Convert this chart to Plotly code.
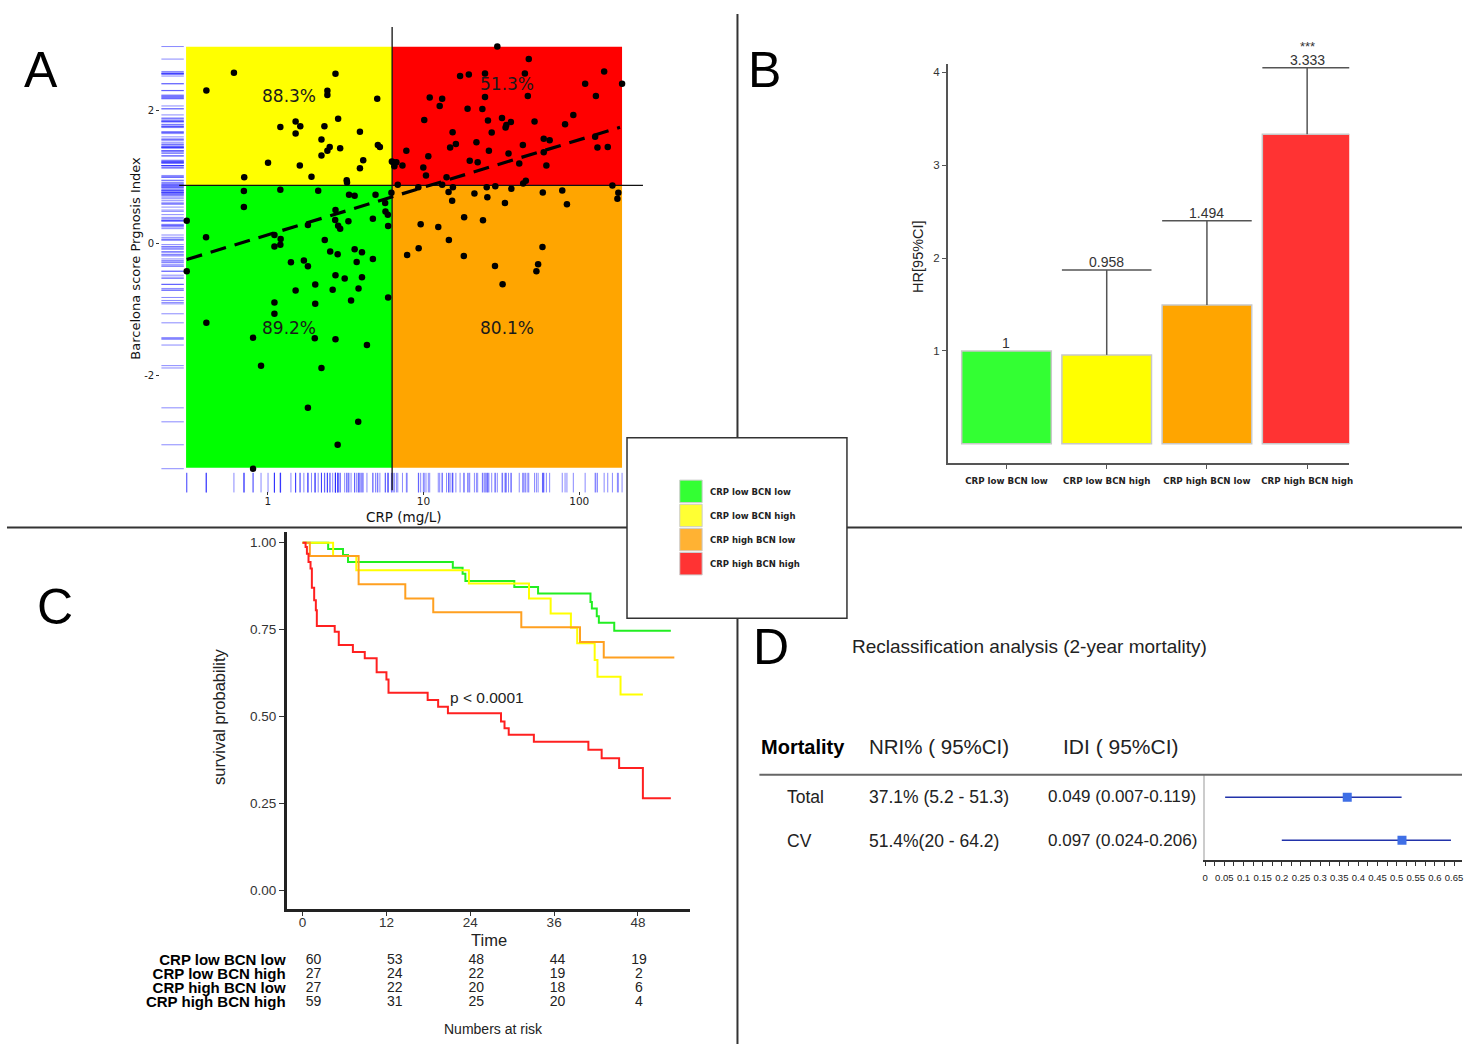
import numpy as np
import plotly.graph_objects as go

# page size, used to place layout items in paper coordinates
W, H = 1466, 1045


def fx(x):
    return x / W


def fy(y):
    return 1 - y / H


# ---------------------------------------------------------------
# Panel A : CRP (log10 mg/L) vs Barcelona prognosis index
# ---------------------------------------------------------------
crp_log10 = [-0.217, -0.394, 0.435, 0.383, 0.383, 0.703, 0.452, 0.179, 0.209, 0.179,
             0.081, 0.364, 0.592, 0.345, 0.398, 0.383, 0.345, 0.465, 0.707, 0.720,
             0.613, 0.592, 0.002, 0.206, -0.151, 0.281, 0.507, 0.509, 0.797,
             0.805, 0.826, 0.813, 0.865, 0.890, 1.031, 0.999, 1.016, 0.835, 0.967,
             1.148, 1.171, 1.208, 1.187, 1.297, 1.348, 1.340, 1.420, 1.438, 1.527,
             1.532, 1.546, 1.615, 1.638, 1.772, 1.810, 1.772, 1.789, 1.909, 2.102,
             2.117, 2.183, 1.657, 1.640, 1.461, 1.406, 1.564, 1.120, 1.189, 2.213,
             1.474, 1.676, 1.235, 1.291, 1.395, 1.651, 1.670, 1.395, 1.040, 1.120,
             1.104, 1.283, 1.378, 1.005, 1.414, 1.504, 1.561, 1.713, 1.962, 2.038,
             2.160, 2.107, 2.275,
             0.794, 1.161, 1.184, 1.327, 1.410, 1.523, 1.766, 1.891, 1.921, 2.251,
             2.245, 1.261, 1.382, 0.982, 1.095, 1.163, 0.969, 0.895, 1.259, 1.459,
             1.508, 1.764, 1.736, 1.725,
             -0.153, -0.153, 0.081, 0.324, 0.522, 0.558, 0.692, 0.754, 0.756, 0.771,
             0.773, 0.675, 0.518, 0.435, 0.433, 0.452, 0.465, 0.258, 0.043, 0.083,
             0.081, 0.043, -0.396, -0.520, -0.520, 0.366, 0.401, 0.449, 0.558, 0.605,
             0.675, 0.571, 0.149, 0.232, 0.258, 0.435, 0.494, 0.605, 0.305, 0.179,
             0.417, 0.583, 0.535, 0.305, 0.043, 0.043, 0.773, -0.394, -0.094, 0.302,
             0.435, 0.637, -0.043, 0.345, 0.258, 0.581, 0.449, -0.094]
bcn_index = [2.572, 2.305, 2.556, 2.301, 2.236, 2.181, 1.880, 1.835, 1.764, 1.654,
             1.755, 1.764, 1.684, 1.564, 1.454, 1.394, 1.323, 1.433, 1.484, 1.454,
             1.253, 1.132, 1.214, 1.173, 0.997, 1.003, 0.952, 0.917, 1.233,
             1.223, 1.223, 1.163, 1.173, 1.394, 1.313, 1.143, 1.023, 0.883, 0.847,
             0.997, 1.444, 1.499, 1.674, 1.244, 1.223, 1.524, 1.394, 1.669, 1.745,
             1.785, 1.354, 1.203, 1.484, 1.575, 1.554, 1.373, 1.173, 1.794, 1.605,
             1.444, 1.454, 0.943, 0.902, 0.862, 0.847, 0.823, 0.883, 0.847, 0.872,
             2.967, 2.778, 2.522, 2.546, 2.561, 2.561, 2.221, 2.206, 2.200, 2.181,
             2.071, 2.030, 2.026, 1.860, 1.850, 1.890, 1.830, 1.835, 1.936, 2.406,
             2.591, 2.221, 2.406,
             0.762, 0.772, 0.642, 0.752, 0.696, 0.606, 0.767, 0.797, 0.587, 0.762,
             0.672, 0.391, 0.346, 0.286, 0.245, 0.050, -0.075, -0.176, -0.191, -0.341,
             -0.617, -0.056, -0.316, -0.421,
             0.787, 0.546, 0.808, 0.793, 0.732, 0.717, 0.732, 0.606, 0.481, 0.432,
             0.260, 0.371, 0.331, 0.501, 0.350, 0.266, 0.221, 0.275, 0.125, 0.065,
             -0.020, -0.050, 0.090, 0.341, -0.421, 0.050, -0.125, -0.165, -0.090, -0.135,
             -0.236, -0.281, -0.286, -0.260, -0.346, -0.481, -0.531, -0.511, -0.621, -0.711,
             -0.702, -0.681, -0.862, -0.913, -0.892, -1.063, -0.817, -1.199, -1.424, -1.433,
             -1.448, -1.534, -1.845, -1.880, -2.481, -2.692, -3.038, -3.399]

crp_edges = [0.299, 6.29, 188.3]      # min, cut-off, max (mg/L)
bcn_edges = [-3.383, 0.872, 2.962]    # min, cut-off, max
trend_crp = [0.302, 182.8]
trend_bcn = [-0.245, 1.749]
quad_pct = ["88.3%", "51.3%", "89.2%", "80.1%"]

# ---------------------------------------------------------------
# Panel B : hazard ratios
# ---------------------------------------------------------------
groups = ["CRP low BCN low", "CRP low BCN high", "CRP high BCN low", "CRP high BCN high"]
hr = [1.0, 0.958, 1.494, 3.333]
hr_upper = [1.0, 1.873, 2.404, 4.05]
hr_text = ["1", "0.958", "1.494", "3.333"]
bar_colors = ["#33ff33", "#ffff00", "#ffa500", "#ff3333"]

# ---------------------------------------------------------------
# Panel C : Kaplan-Meier curves (months)
# ---------------------------------------------------------------
km_t = {
    "CRP low BCN low": [0, 3.66, 5.79, 6.5, 21.5, 22.9, 23.3, 30.3, 33.7, 41.2, 41.4,
                        42.1, 42.4, 44.6, 52.7],
    "CRP low BCN high": [0, 4.37, 7.69, 23.8, 32.4, 35.5, 38.4, 39.3, 41.8, 42.2, 45.5, 48.7],
    "CRP high BCN low": [0, 1.04, 8.02, 14.7, 18.7, 31.3, 39.7, 43.1, 53.2],
    "CRP high BCN high": [0, 0.43, 0.62, 0.85, 1.14, 1.33, 1.66, 1.90, 2.04, 4.6, 5.18,
                          7.2, 8.9, 10.6, 12.0, 12.3, 17.9, 19.4, 20.8, 28.4, 28.9, 29.5,
                          33.1, 40.9, 42.8, 45.3, 48.7, 52.7],
}
km_s = {
    "CRP low BCN low": [1, 0.982, 0.965, 0.945, 0.928, 0.911, 0.890, 0.873, 0.854, 0.830,
                        0.811, 0.789, 0.770, 0.747, 0.747],
    "CRP low BCN high": [1, 0.962, 0.921, 0.883, 0.840, 0.797, 0.756, 0.711, 0.663, 0.615,
                         0.564, 0.564],
    "CRP high BCN low": [1, 0.962, 0.881, 0.840, 0.800, 0.757, 0.715, 0.670, 0.670],
    "CRP high BCN high": [1, 0.988, 0.968, 0.945, 0.926, 0.871, 0.835, 0.806, 0.761, 0.744,
                          0.706, 0.686, 0.668, 0.628, 0.607, 0.569, 0.548, 0.529, 0.510,
                          0.486, 0.467, 0.448, 0.428, 0.405, 0.381, 0.353, 0.266, 0.266],
}
km_colors = ["#22ee22", "#ffff00", "#ffa020", "#ff2020"]
risk_times = [0, 12, 24, 36, 48]
at_risk = [[60, 53, 48, 44, 19],
           [27, 24, 22, 19, 2],
           [27, 22, 20, 18, 6],
           [59, 31, 25, 20, 4]]

# ---------------------------------------------------------------
# Panel D : reclassification
# ---------------------------------------------------------------
rows = ["Total", "CV"]
nri_txt = ["37.1% (5.2 - 51.3)", "51.4%(20 - 64.2)"]
idi_txt = ["0.049 (0.007-0.119)", "0.097 (0.024-0.206)"]
nri = [0.371, 0.514]
nri_lo = [0.052, 0.20]
nri_hi = [0.513, 0.642]
forest_ticks = [0, 0.05, 0.1, 0.15, 0.2, 0.25, 0.3, 0.35, 0.4, 0.45, 0.5, 0.55, 0.6, 0.65]

fig = go.Figure()

# ---- Panel A traces
quadrants = [
    (crp_edges[0], crp_edges[1], bcn_edges[1], bcn_edges[2], "#ffff00"),
    (crp_edges[1], crp_edges[2], bcn_edges[1], bcn_edges[2], "#ff0000"),
    (crp_edges[0], crp_edges[1], bcn_edges[0], bcn_edges[1], "#00ff00"),
    (crp_edges[1], crp_edges[2], bcn_edges[0], bcn_edges[1], "#ffa500"),
]
for x0, x1, y0, y1, col in quadrants:
    fig.add_trace(go.Scatter(x=[x0, x1, x1, x0, x0], y=[y0, y0, y1, y1, y0],
                             fill="toself", fillcolor=col, mode="lines",
                             line=dict(width=0), hoverinfo="skip",
                             xaxis="x", yaxis="y"))

crp = [10 ** v for v in crp_log10]
# rugs
fig.add_trace(go.Scatter(x=crp, y=[-3.609] * len(crp), mode="markers",
                         marker=dict(symbol="line-ns", size=14,
                                     line=dict(color="rgba(40,40,255,0.55)", width=1)),
                         cliponaxis=False, xaxis="x", yaxis="y"))
fig.add_trace(go.Scatter(x=[0.245] * len(bcn_index), y=bcn_index, mode="markers",
                         marker=dict(symbol="line-ew", size=16,
                                     line=dict(color="rgba(40,40,255,0.55)", width=1)),
                         cliponaxis=False, xaxis="x", yaxis="y"))
# cut-off lines
fig.add_trace(go.Scatter(x=[0.27, 256.5], y=[bcn_edges[1]] * 2, mode="lines",
                         line=dict(color="#111111", width=1.3), xaxis="x", yaxis="y"))
fig.add_trace(go.Scatter(x=[crp_edges[1]] * 2, y=[-3.729, 3.263], mode="lines",
                         line=dict(color="#111111", width=1.3), cliponaxis=False,
                         xaxis="x", yaxis="y"))
fig.add_trace(go.Scatter(x=crp, y=bcn_index, mode="markers",
                         marker=dict(color="black", size=6.5),
                         xaxis="x", yaxis="y"))
fig.add_trace(go.Scatter(x=trend_crp, y=trend_bcn, mode="lines",
                         line=dict(color="black", width=3.2, dash="16px,9px"),
                         xaxis="x", yaxis="y"))

# ---- Panel B traces
fig.add_trace(go.Bar(x=[0, 1, 2, 3], y=hr, width=0.894,
                     marker=dict(color=bar_colors, line=dict(color="#c8c8c8", width=1.5)),
                     xaxis="x2", yaxis="y2"))
ex, ey = [], []
for i, (v, u) in enumerate(zip(hr, hr_upper)):
    if u > v:
        ex += [i, i, None, i - 0.447, i + 0.447, None]
        ey += [v, u, None, u, u, None]
fig.add_trace(go.Scatter(x=ex, y=ey, mode="lines", line=dict(color="#555555", width=1.5),
                         xaxis="x2", yaxis="y2"))

# ---- Panel C traces
for g, col in zip(groups, km_colors):
    fig.add_trace(go.Scatter(x=km_t[g], y=km_s[g], mode="lines",
                             line=dict(color=col, width=2, shape="hv"),
                             xaxis="x3", yaxis="y3"))
# numbers at risk table
for r, counts in enumerate(at_risk):
    fig.add_trace(go.Scatter(x=risk_times, y=[r] * len(risk_times), mode="text",
                             text=[str(c) for c in counts],
                             textfont=dict(size=14, color="#222222", family="Liberation Sans"),
                             xaxis="x5", yaxis="y5"))

# ---- Panel D forest
fig.add_trace(go.Scatter(x=nri, y=[2, 1], mode="markers",
                         marker=dict(symbol="square", size=9, color="#3f6fe6"),
                         error_x=dict(type="data", symmetric=False,
                                      array=[h - v for h, v in zip(nri_hi, nri)],
                                      arrayminus=[v - l for v, l in zip(nri, nri_lo)],
                                      color="#2233aa", thickness=1.5, width=0),
                         xaxis="x4", yaxis="y4"))

# ---------------------------------------------------------------
# Annotations
# ---------------------------------------------------------------
ann = []


def txt(x, y, s, size, **kw):
    d = dict(x=fx(x), y=fy(y), xref="paper", yref="paper", text=s, showarrow=False,
             xanchor="center", yanchor="middle",
             font=dict(size=size, color=kw.pop("color", "#111111"),
                       family=kw.pop("family", "Liberation Sans")))
    d.update(kw)
    ann.append(d)


# panel letters
for lab, x, y in [("A", 38, 68), ("B", 765, 68), ("C", 52, 607), ("D", 772, 647)]:
    txt(x, y, lab, 50, family="Liberation Sans", color="black")

# A texts
quad_pos = [(0.137, 2.226), (1.537, 2.406), (0.137, -1.278), (1.537, -1.278)]
for s, (lx, ly) in zip(quad_pct, quad_pos):
    ann.append(dict(x=lx, y=ly, xref="x", yref="y", text=s, showarrow=False,
                    font=dict(size=17, color="#1a1a1a", family="DejaVu Sans")))
txt(403, 516, "CRP (mg/L)", 13.5, family="DejaVu Sans")
txt(133, 257, "Barcelona score Prgnosis Index", 13, family="DejaVu Sans", textangle=-90)

# B texts
for i, (u, s) in enumerate(zip(hr_upper, hr_text)):
    ann.append(dict(x=i, y=u, xref="x2", yref="y2", text=s, showarrow=False, yshift=8,
                    font=dict(size=14, color="#333333", family="Liberation Sans")))
ann.append(dict(x=3, y=hr_upper[3], xref="x2", yref="y2", text="***", showarrow=False,
                yshift=21, font=dict(size=13, color="#333333", family="Liberation Sans")))
txt(920, 255, "HR[95%CI]", 14.5, textangle=-90, color="#222222")

# C texts
txt(486, 698, "p < 0.0001", 15.5, color="#222222")
txt(488, 941, "Time", 16.5, color="#222222")
txt(217, 717, "survival probability", 16.5, textangle=-90, color="#222222")
txt(493, 1030, "Numbers at risk", 14, color="#222222")

# legend box texts
for k, g in enumerate(groups):
    txt(708, 491 + 24.2 * k, "<b>" + g + "</b>", 8.5, family="DejaVu Sans",
        xanchor="left", color="#222222")

# D texts
txt(851, 646, "Reclassification analysis (2-year mortality)", 19, xanchor="left",
    color="#222222")
txt(760, 747, "<b>Mortality</b>", 20, xanchor="left", color="black")
txt(868, 747, "NRI% ( 95%CI)", 20.5, xanchor="left", color="#222222")
txt(1063, 747, "IDI ( 95%CI)", 21, xanchor="left", color="#222222")
for k, (r, a, b) in enumerate(zip(rows, nri_txt, idi_txt)):
    yy = 797 + 44 * k
    txt(786, yy, r, 17.5, xanchor="left", color="#222222")
    txt(868, yy, a, 17.5, xanchor="left", color="#222222")
    txt(1048, yy, b, 17, xanchor="left", color="#222222")

# ---------------------------------------------------------------
# Shapes: panel dividers, legend box
# ---------------------------------------------------------------
shapes = [
    dict(type="line", xref="paper", yref="paper", x0=fx(738), x1=fx(738), y0=fy(12), y1=0,
         line=dict(color="#333333", width=2), layer="above"),
    dict(type="line", xref="paper", yref="paper", x0=fx(4), x1=1, y0=fy(527), y1=fy(527),
         line=dict(color="#333333", width=2), layer="above"),
    dict(type="line", xref="paper", yref="paper", x0=fx(760), x1=1, y0=fy(775), y1=fy(775),
         line=dict(color="#666666", width=2), layer="above"),
    dict(type="rect", xref="paper", yref="paper", x0=fx(627), x1=fx(848), y0=fy(437),
         y1=fy(618), fillcolor="white", line=dict(color="#333333", width=1.5), layer="above"),
]
for k, col in enumerate(["#33ff33", "#ffff33", "#ffb233", "#ff3333"]):
    top = 479.5 + 24.2 * k
    shapes.append(dict(type="rect", xref="paper", yref="paper", x0=fx(680), x1=fx(702.5),
                       y0=fy(top), y1=fy(top + 22.5), fillcolor=col,
                       line=dict(color="#cccccc", width=1), layer="above"))

axis_common = dict(showgrid=False, zeroline=False)

fig.update_layout(
    width=W, height=H, margin=dict(l=0, r=0, t=0, b=0),
    paper_bgcolor="white", plot_bgcolor="rgba(0,0,0,0)", showlegend=False,
    font=dict(family="Liberation Sans", color="#222222"),
    annotations=ann, shapes=shapes,
    # A
    xaxis=dict(axis_common, domain=[fx(158), fx(650)], type="log",
               range=[(158 - 266) / 156.5, (650 - 266) / 156.5],
               tickvals=[1, 10, 100], ticktext=["1", "10", "100"], ticks="outside",
               ticklen=3, tickcolor="#333", ticklabelstandoff=-2,
               tickfont=dict(size=10.5, family="DejaVu Sans"), anchor="y"),
    yaxis=dict(axis_common, domain=[fy(490), fy(20)], range=[-3.729, 3.338],
               tickvals=[-2, 0, 2], ticktext=["-2", "0", "2"], ticks="outside",
               ticklen=3, tickcolor="#333",
               tickfont=dict(size=10, family="DejaVu Sans"), anchor="x"),
    # B
    xaxis2=dict(axis_common, domain=[fx(949.3), fx(1352.7)], range=[-0.586, 3.42],
                tickvals=[0, 1, 2, 3], ticktext=["<b>" + g + "</b>" for g in groups],
                ticks="outside", ticklen=4, tickcolor="#555", showline=True,
                linecolor="#555", linewidth=1.5, tickangle=0, ticklabelstandoff=5,
                tickfont=dict(size=8.7, family="DejaVu Sans", color="#222"), anchor="y2"),
    yaxis2=dict(axis_common, domain=[fy(462.3), fy(61.7)], range=[-0.206, 4.096],
                tickvals=[1, 2, 3, 4], ticks="outside", ticklen=4, tickcolor="#555",
                showline=True, linecolor="#555", linewidth=1.5,
                tickfont=dict(size=11.5, color="#333"), anchor="x2"),
    # C
    xaxis3=dict(axis_common, domain=[fx(285), fx(690)], range=[-2.28, 55.4],
                tickvals=risk_times, ticks="outside", ticklen=4, tickcolor="#333",
                ticklabelstandoff=-5, showline=True, linecolor="#222", linewidth=2.5,
                tickfont=dict(size=13.5, color="#333"), anchor="y3"),
    yaxis3=dict(axis_common, domain=[fy(910), fy(532)], range=[-0.0536, 1.0295],
                tickvals=[0, 0.25, 0.5, 0.75, 1.0],
                ticktext=["0.00", "0.25", "0.50", "0.75", "1.00"], ticks="outside",
                ticklen=5, tickcolor="#333", showline=True, linecolor="#222",
                linewidth=2.5, tickfont=dict(size=13.5, color="#333"), anchor="x3"),
    # risk table
    xaxis5=dict(axis_common, domain=[fx(285), fx(690)],
                range=[(285 - 312) / 6.8125, (690 - 312) / 6.8125], visible=False,
                anchor="y5"),
    yaxis5=dict(axis_common, domain=[fy(1010), fy(954)], range=[3.5, -0.5],
                tickvals=[0, 1, 2, 3], ticktext=["<b>" + g + "</b>" for g in groups],
                showline=False, ticks="", tickfont=dict(size=15, color="black"),
                anchor="x5"),
    # D forest
    xaxis4=dict(axis_common, domain=[fx(1208), 1.0], range=[0, 0.6708],
                tickvals=forest_ticks, ticktext=[f"{v:g}" for v in forest_ticks],
                tickangle=0, ticks="outside", ticklen=5, tickcolor="#333",
                ticklabelstandoff=3,
                minor=dict(dtick=0.025, tick0=0, ticks="outside", ticklen=5,
                           tickcolor="#333"),
                showline=True, linecolor="#333", linewidth=1.5,
                tickfont=dict(size=9.5, color="#222"), anchor="y4"),
    yaxis4=dict(axis_common, domain=[fy(860), fy(775)], range=[0.548, 2.524],
                showticklabels=False, showline=True, linecolor="#cccccc", linewidth=1.5,
                anchor="x4"),
)

fig.write_html("out.html", config={"displayModeBar": False},
               post_script="document.body.style.margin='0';")
